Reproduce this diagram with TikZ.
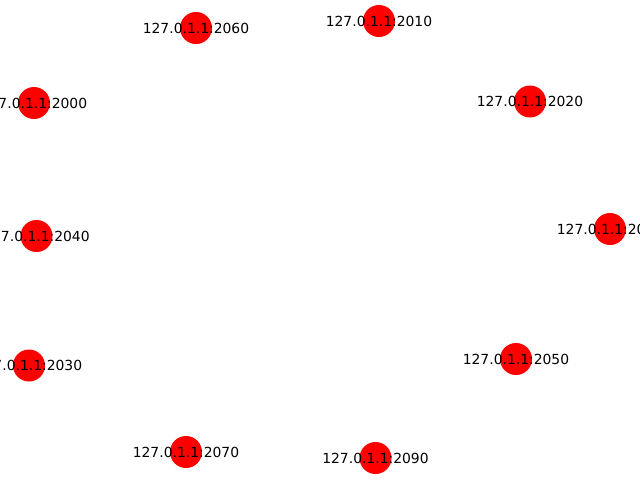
\documentclass[tikz,border=0pt]{standalone}
\usepackage{fontspec}
\setmainfont{DejaVu Sans}
\begin{document}
\begin{tikzpicture}[x=1pt,y=-1pt,
  dot/.style={circle,fill=red,draw=none,minimum size=32pt,inner sep=0pt},
  lab/.style={font=\fontsize{13.9}{16}\selectfont,inner sep=0pt,text=black}]
\useasboundingbox (0,0) rectangle (640,480);
\clip (0,0) rectangle (640,480);
\node[dot] (n2060) at (196,28) {};
\node[dot] (n2010) at (379,21) {};
\node[dot] (n2000) at (34,103) {};
\node[dot] (n2020) at (530,101.5) {};
\node[dot] (n2040) at (36.5,236) {};
\node[dot] (n2080) at (610,229) {};
\node[dot] (n2030) at (29,365.5) {};
\node[dot] (n2050) at (516,359) {};
\node[dot] (n2070) at (186,452) {};
\node[dot] (n2090) at (375.5,458) {};
\foreach \n in {2060,2010,2000,2020,2040,2080,2030,2050,2070,2090}
  \node[lab] (l\n) at (n\n) {127.0.1.1:\n};
\end{tikzpicture}
\end{document}
